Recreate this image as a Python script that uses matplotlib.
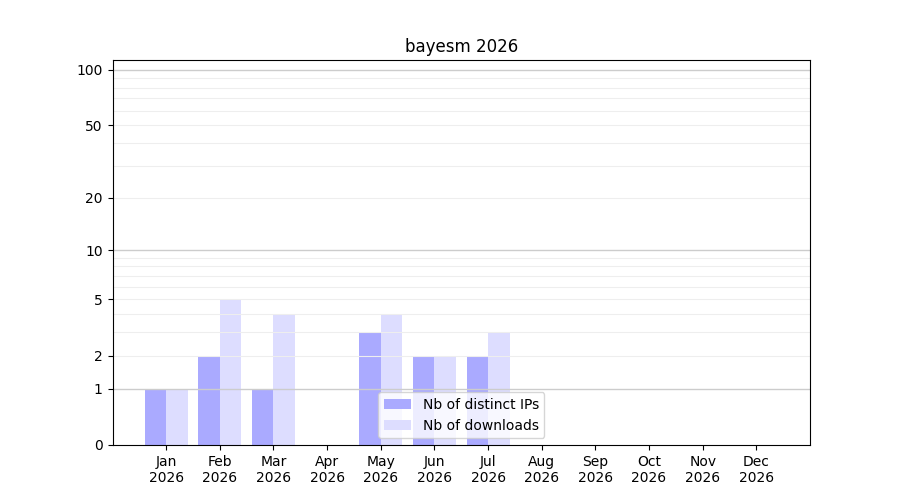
import numpy as np
import matplotlib.pyplot as plt

months = ["Jan", "Feb", "Mar", "Apr", "May", "Jun", "Jul", "Aug", "Sep", "Oct", "Nov", "Dec"]
year = "2026"
distinct_ips = [1, 2, 1, 0, 3, 2, 2, 0, 0, 0, 0, 0]
downloads = [1, 5, 4, 0, 4, 2, 3, 0, 0, 0, 0, 0]
y_ticks = [0, 1, 2, 5, 10, 20, 50, 100]


def fwd(y):
    return np.log10(1 + np.maximum(y, 0))


def inv(y):
    return 10 ** y - 1


fig, ax = plt.subplots(figsize=(9, 5), dpi=100)
x = np.arange(len(months))
w = 0.4

ax.set_yscale('function', functions=(fwd, inv))

# grid: darker at decades, lighter in between
for v in [1, 10, 100]:
    ax.axhline(v, color='#cccccc', lw=1, zorder=1.5)
for v in list(range(2, 10)) + list(range(20, 100, 10)):
    ax.axhline(v, color='#eeeeee', lw=0.8, zorder=1.5)

ax.bar(x - w / 2, distinct_ips, width=w, color='#aaaaff', label='Nb of distinct IPs', zorder=1)
ax.bar(x + w / 2, downloads, width=w, color='#ddddff', label='Nb of downloads', zorder=1)

ax.set_xticks(x)
ax.set_xticklabels([f"{m}\n{year}" for m in months])
ax.set_xlim(-1, 12)
ax.set_ylim(0, 113)
ax.set_yticks(y_ticks)
ax.set_yticklabels([str(t) for t in y_ticks])
ax.minorticks_off()
ax.set_title(f"bayesm {year}")
ax.legend(loc='lower center')

plt.savefig('out.png', dpi=100)
